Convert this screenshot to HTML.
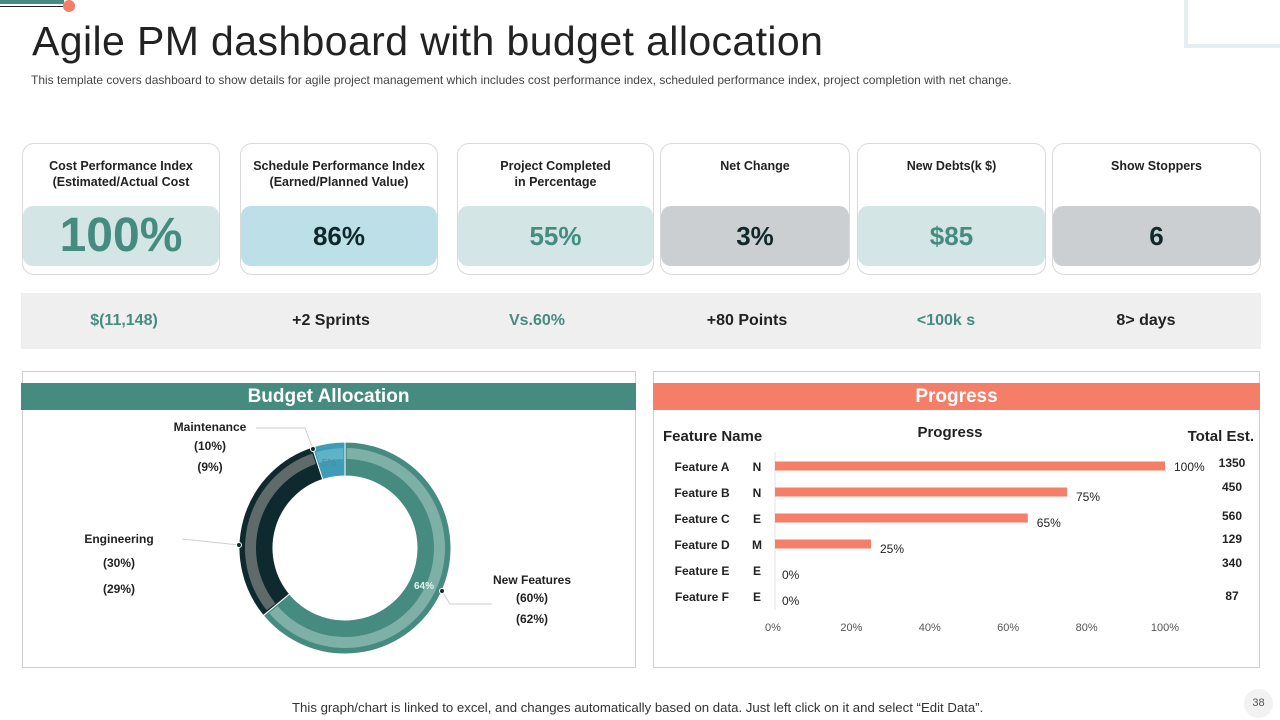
<!DOCTYPE html>
<html><head><meta charset="utf-8"><style>
*{margin:0;padding:0;box-sizing:border-box}
body{width:1280px;height:720px;position:relative;background:#fff;font-family:"Liberation Sans",sans-serif;overflow:hidden;color:#222}
.abs{position:absolute}
.card{position:absolute;top:143px;height:132px;border:1px solid #d9d9d9;border-radius:12px;background:#fff}
.card .t{position:absolute;top:14px;left:0;right:0;text-align:center;font-size:12.5px;font-weight:bold;line-height:16px;color:#222}
.card .v{position:absolute;top:62px;left:0;right:0;height:60px;border-radius:10px;text-align:center;line-height:60px;font-weight:bold;font-size:26px}
.strip span{position:absolute;top:0;line-height:56px;font-size:16px;font-weight:bold;transform:translateX(-50%)}
</style></head><body>
<div class="abs" style="left:0;top:0;width:64px;height:4px;background:#468b80"></div>
<div class="abs" style="left:0;top:6px;width:64px;height:1px;background:#222"></div>
<div class="abs" style="left:63px;top:0;width:12px;height:12px;border-radius:50%;background:#f47e67"></div>
<div class="abs" style="left:1184px;top:0;width:100px;height:48px;border-left:4px solid #e3f0f2;border-bottom:4px solid #e3f0f2"></div>

<div class="abs" style="left:32px;top:18px;font-size:41px;color:#222;letter-spacing:0.4px">Agile PM dashboard with budget allocation</div>
<div class="abs" style="left:31px;top:73px;font-size:12px;color:#444">This template covers dashboard to show details for agile project management which includes cost performance index, scheduled performance index, project completion with net change.</div>

<div class="card" style="left:22px;width:198px"><div class="t">Cost Performance Index<br>(Estimated/Actual Cost</div><div class="v" style="background:#d3e5e5;color:#468b80;font-size:48px">100%</div></div>
<div class="card" style="left:240px;width:198px"><div class="t">Schedule Performance Index<br>(Earned/Planned Value)</div><div class="v" style="background:#bde0e8;color:#10282c">86%</div></div>
<div class="card" style="left:457px;width:197px"><div class="t">Project Completed<br>in Percentage</div><div class="v" style="background:#d3e5e5;color:#468b80">55%</div></div>
<div class="card" style="left:660px;width:190px"><div class="t">Net Change</div><div class="v" style="background:#cbcfd1;color:#10282c">3%</div></div>
<div class="card" style="left:857px;width:189px"><div class="t">New Debts(k $)</div><div class="v" style="background:#d3e5e5;color:#468b80">$85</div></div>
<div class="card" style="left:1052px;width:209px"><div class="t">Show Stoppers</div><div class="v" style="background:#cbcfd1;color:#10282c">6</div></div>

<div class="abs strip" style="left:21px;top:293px;width:1240px;height:56px;background:#efefef">
<span style="left:103px;color:#468b80">$(11,148)</span>
<span style="left:310px">+2 Sprints</span>
<span style="left:516px;color:#468b80">Vs.60%</span>
<span style="left:726px">+80 Points</span>
<span style="left:925px;color:#468b80">&lt;100k s</span>
<span style="left:1125px">8&gt; days</span>
</div>

<div class="abs" style="left:22px;top:371px;width:614px;height:297px;border:1px solid #cfcfcf"></div>
<div class="abs" style="left:21px;top:383px;width:615px;height:27px;background:#468b80;color:#fff;text-align:center;font-size:19px;font-weight:bold;line-height:27px">Budget Allocation</div>
<svg class="abs" style="left:0;top:0" width="640" height="720" id="donut"></svg>

<div class="abs" style="left:653px;top:371px;width:607px;height:297px;border:1px solid #cfcfcf"></div>
<div class="abs" style="left:653px;top:383px;width:607px;height:27px;background:#f47e67;color:#fff;text-align:center;font-size:19px;font-weight:bold;line-height:27px">Progress</div>
<svg class="abs" style="left:640px;top:0" width="640" height="720" id="bars"></svg>

<div class="abs" style="left:292px;top:700px;font-size:13.2px;color:#333">This graph/chart is linked to excel, and changes automatically based on data. Just left click on it and select “Edit Data”.</div>
<div class="abs" style="left:1244px;top:689px;width:29px;height:29px;border-radius:50%;background:#f2f2f2;text-align:center;line-height:29px;font-size:11px;color:#555">38</div>

<script>
const segNames=["New Features","Engineering","Maintenance"];
const outerVals=[64,31,5];
const darkColors=["#468b80","#0f2a2e","#3f9cb6"];
const lightColors=["#7fb0a8","#5f6b6b","#5fb3c8"];
const NS="http://www.w3.org/2000/svg";
const d=document.getElementById("donut");
const cx=345,cy=548;
function pt(r,a){const t=a/100*2*Math.PI;return[cx+r*Math.sin(t),cy-r*Math.cos(t)];}
function arc(r0,r1,a0,a1){const L=(a1-a0)>50?1:0;const p1=pt(r1,a0),p2=pt(r1,a1),p3=pt(r0,a1),p4=pt(r0,a0);
return `M${p1[0]},${p1[1]}A${r1},${r1} 0 ${L} 1 ${p2[0]},${p2[1]}L${p3[0]},${p3[1]}A${r0},${r0} 0 ${L} 0 ${p4[0]},${p4[1]}Z`;}
let acc=0;
outerVals.forEach((v,i)=>{
 const p=document.createElementNS(NS,"path");
 p.setAttribute("d",arc(72,106,acc,acc+v));p.setAttribute("fill",darkColors[i]);p.setAttribute("stroke","#fff");p.setAttribute("stroke-width","1");
 
 
 d.appendChild(p);
 const q=document.createElementNS(NS,"path");
 q.setAttribute("d",arc(89,100,acc+0.3,acc+v-0.3));q.setAttribute("fill",lightColors[i]);
 
 
 d.appendChild(q);
 acc+=v;
});
function txt(x,y,s,opts){const t=document.createElementNS(NS,"text");t.setAttribute("x",x);t.setAttribute("y",y);t.setAttribute("font-size",opts.fs||12);t.setAttribute("font-weight",opts.fw||"bold");t.setAttribute("fill",opts.c||"#222");t.setAttribute("text-anchor",opts.a||"middle");t.setAttribute("font-family","Liberation Sans, sans-serif");t.textContent=s;return t;}
const labels=[["Maintenance",210,431],["(10%)",210,450],["(9%)",210,471],["Engineering",119,543],["(30%)",119,567],["(29%)",119,593],["New Features",532,584],["(60%)",532,602],["(62%)",532,623]];
labels.forEach(l=>{const t=txt(l[1],l[2],l[0],{});d.appendChild(t);});
const v1=txt(329,466,outerVals[2]+"%",{fs:10,fw:"normal",c:"#4d8a9a"});d.appendChild(v1);
const v2=txt(424,589,outerVals[0]+"%",{fs:10,fw:"bold",c:"#e8f4f2"});d.appendChild(v2);
[["M313,449 L305,428 L256,428"],["M239,545 L182,539"],["M442,591 L450,604 L492,604"]].forEach(l=>{const p=document.createElementNS(NS,"path");p.setAttribute("d",l[0]);p.setAttribute("stroke","#cfcfcf");p.setAttribute("fill","none");d.appendChild(p);});
[[313,449],[239,545],[442,591]].forEach(c=>{const e=document.createElementNS(NS,"circle");e.setAttribute("cx",c[0]);e.setAttribute("cy",c[1]);e.setAttribute("r",2.5);e.setAttribute("fill","#0f2a2e");e.setAttribute("stroke","#fff");d.appendChild(e);});

// Progress chart
const features=["Feature A","Feature B","Feature C","Feature D","Feature E","Feature F"];
const codes=["N","N","E","M","E","E"];
const progress=[100,75,65,25,0,0];
const totals=["1350","450","560","129","340","87"];
const ticks=[0,20,40,60,80,100];
const b=document.getElementById("bars");
const x0=133,x1=525;
function xs(v){return x0+(x1-x0)*v/100;}
function ys(i){return 466+i*26;}
const ax=document.createElementNS(NS,"line");ax.setAttribute("x1",x0+2);ax.setAttribute("x2",x0+2);ax.setAttribute("y1",452);ax.setAttribute("y2",610);ax.setAttribute("stroke","#e3e3e3");b.appendChild(ax);
function bt(x,y,s,o){const t=txt(x,y,s,o);b.appendChild(t);return t;}
let h=bt(23,441,"Feature Name",{fs:15,a:"start"});
h=bt(310,437,"Progress",{fs:15});
h=bt(614,441,"Total Est.",{fs:15,a:"end"});
features.forEach((f,i)=>{
 const y=ys(i);
 let t=bt(62,y+5,f,{fs:12});
 t=bt(117,y+5,codes[i],{fs:12});
 if(progress[i]>0){const r=document.createElementNS(NS,"rect");r.setAttribute("x",x0+2);r.setAttribute("y",y-4.5);r.setAttribute("width",xs(progress[i])-x0-2);r.setAttribute("height",9);r.setAttribute("fill","#f47e67");
 
 
 b.appendChild(r);}
 t=bt(xs(progress[i])+9,y+(progress[i]>=100?5:9),progress[i]+"%",{fs:12,fw:"normal",a:"start"});
 t=bt(592,y+(i==0?1:i==1?-1:i==2?2:i==3?-1:i==4?-3:4),totals[i],{fs:12});
});
ticks.forEach(v=>{const t=bt(xs(v),631,v+"%",{fs:11,fw:"normal",c:"#555"});});
</script>
</body></html>
